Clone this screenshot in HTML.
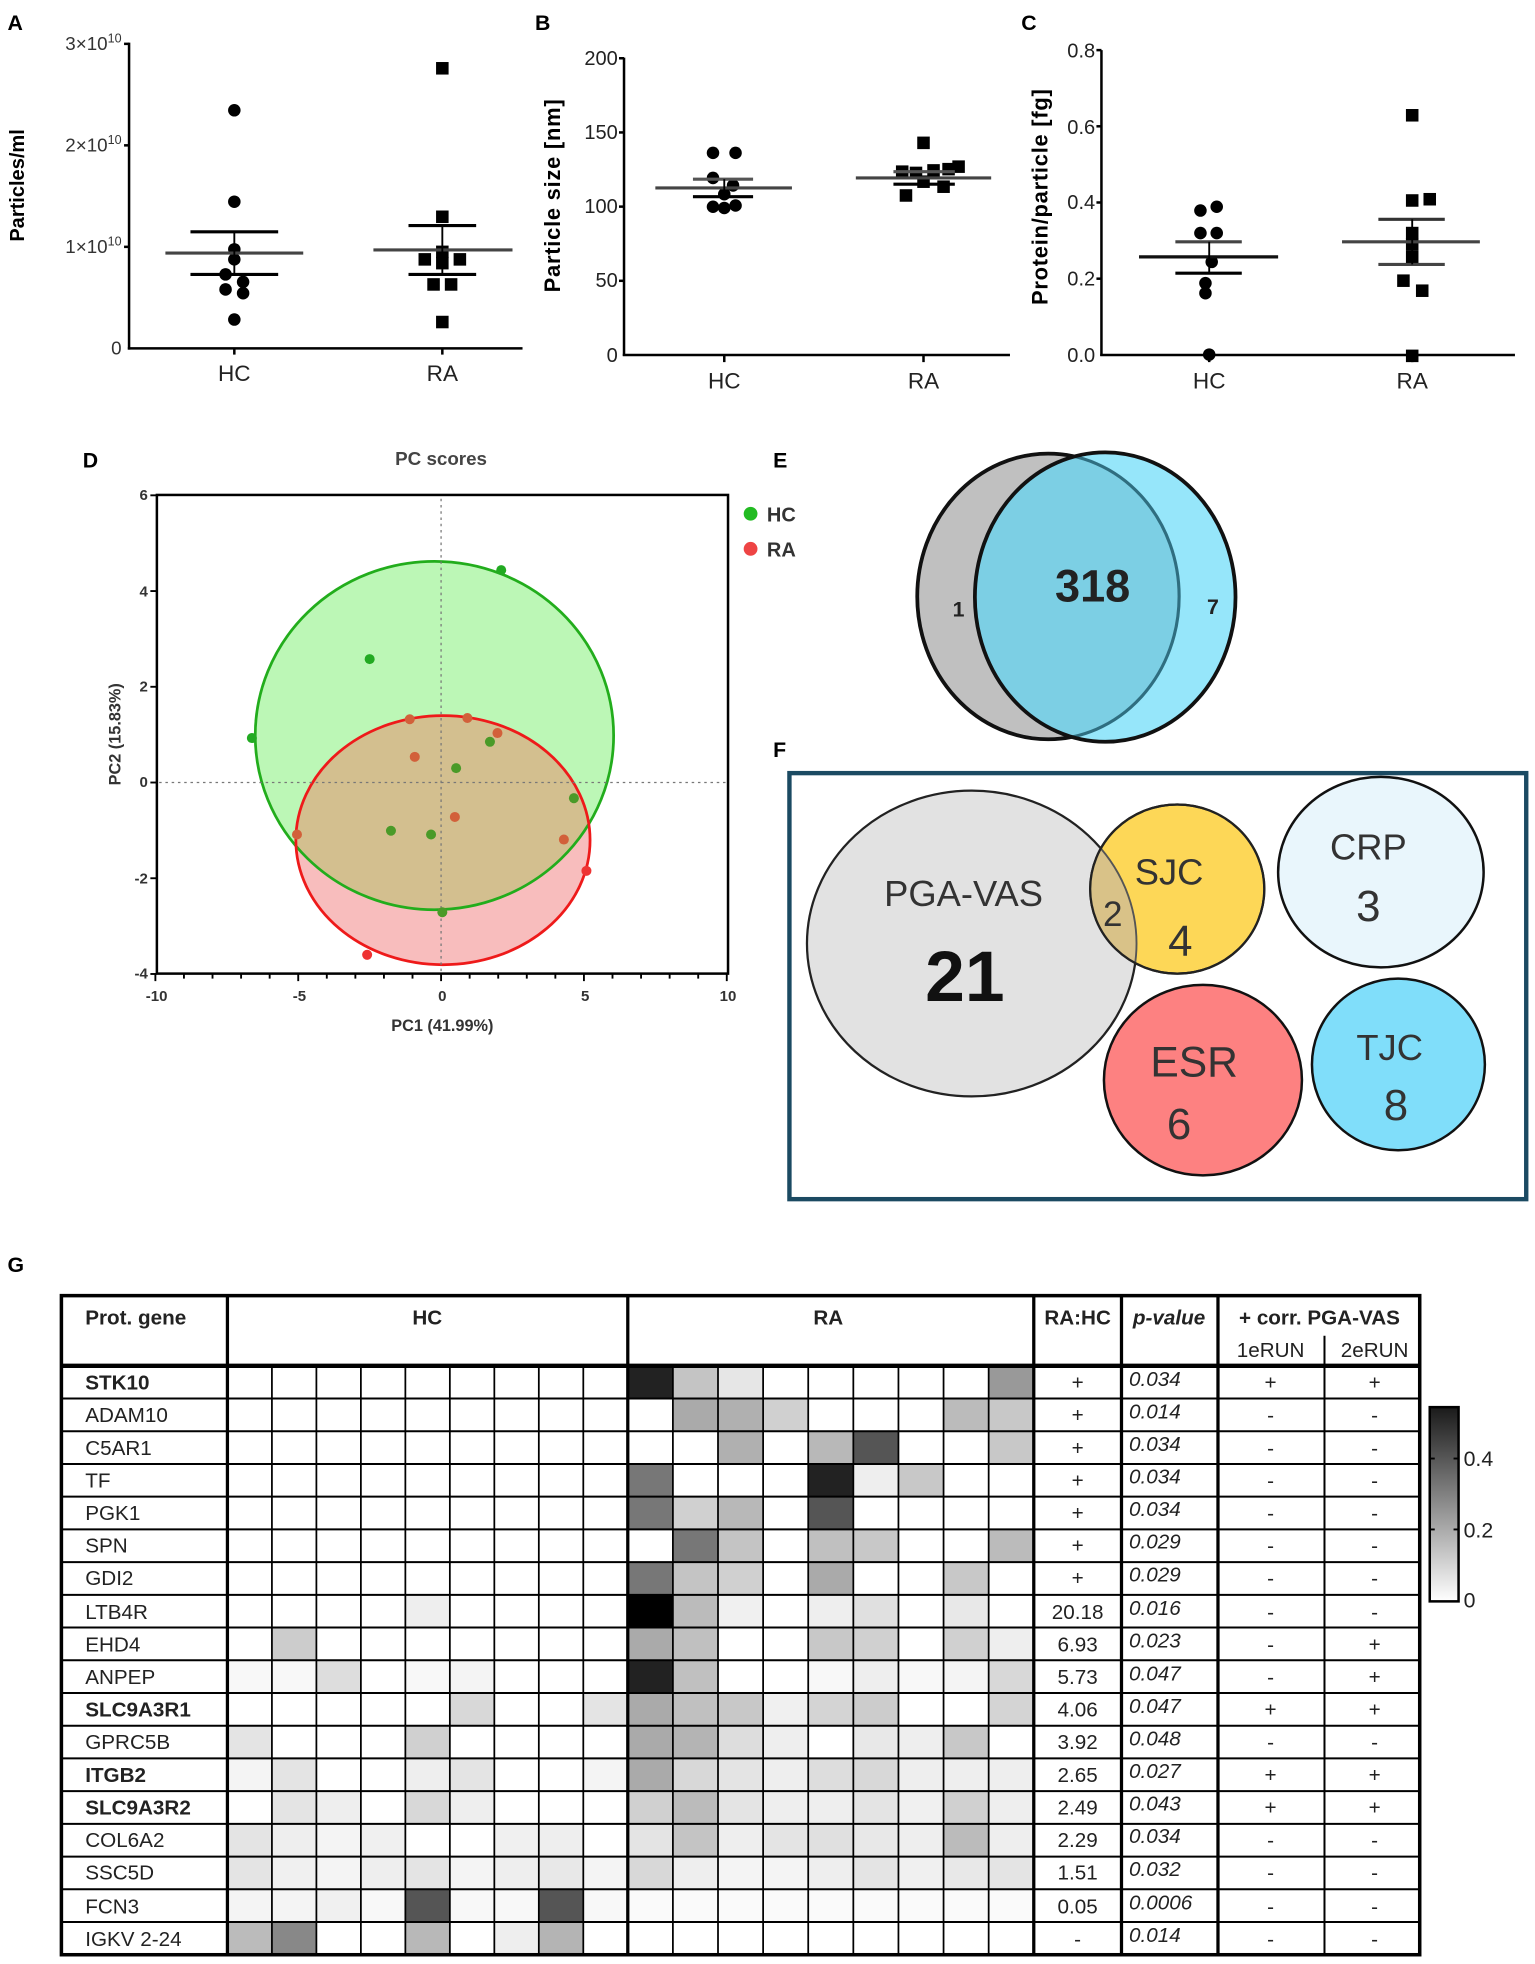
<!DOCTYPE html>
<html><head><meta charset="utf-8">
<style>
html,body{margin:0;padding:0;background:#fff;}
svg{display:block;}
.t{font-family:"Liberation Sans",Arial,sans-serif;}
.n{font-family:"Liberation Sans Narrow","Liberation Sans",Arial,sans-serif;}
</style></head>
<body>
<svg id="s" width="1535" height="1964" viewBox="0 0 1225 1567.4" preserveAspectRatio="none" xmlns="http://www.w3.org/2000/svg">
<rect x="0" y="0" width="1225" height="1567.4" fill="#fff"/>
<!-- Panel labels -->
<g class="t" font-weight="bold" font-size="17" fill="#000">
<text x="6" y="24">A</text><text x="427" y="24">B</text><text x="815" y="24">C</text>
<text x="66" y="373">D</text><text x="617" y="373">E</text><text x="617" y="604">F</text>
<text x="6" y="1015">G</text>
</g>

<!-- Panel A -->
<g stroke="#000" stroke-width="2" fill="none">
<line x1="103" y1="34" x2="103" y2="279"/><line x1="102" y1="278" x2="417" y2="278"/>
<line x1="99" y1="35" x2="103" y2="35"/><line x1="99" y1="116" x2="103" y2="116"/><line x1="99" y1="197" x2="103" y2="197"/>
<line x1="187" y1="278" x2="187" y2="283"/><line x1="353" y1="278" x2="353" y2="283"/>
</g>
<g class="n" font-size="15" fill="#333" text-anchor="end">
<text x="97" y="40">3×10<tspan font-size="10" dy="-6">10</tspan></text>
<text x="97" y="121">2×10<tspan font-size="10" dy="-6">10</tspan></text>
<text x="97" y="202">1×10<tspan font-size="10" dy="-6">10</tspan></text>
<text x="97" y="283">0</text>
</g>
<text class="t" font-weight="bold" font-size="16" transform="translate(19,148) rotate(-90)" text-anchor="middle">Particles/ml</text>
<g class="n" font-size="18" text-anchor="middle" fill="#222"><text x="187" y="304">HC</text><text x="353" y="304">RA</text></g>
<g fill="#000">
<circle cx="187" cy="88" r="5"/><circle cx="187" cy="161" r="5"/><circle cx="187" cy="199" r="5"/><circle cx="187" cy="207" r="5"/><circle cx="180" cy="219" r="5"/><circle cx="194" cy="225" r="5"/><circle cx="180" cy="231" r="5"/><circle cx="194" cy="234" r="5"/><circle cx="187" cy="255" r="5"/>
<rect x="348" y="49.5" width="10" height="10"/><rect x="348" y="168" width="10" height="10"/><rect x="348" y="196" width="10" height="10"/><rect x="334" y="202" width="10" height="10"/><rect x="362" y="202" width="10" height="10"/><rect x="348" y="205" width="10" height="10"/><rect x="341" y="222" width="10" height="10"/><rect x="355" y="222" width="10" height="10"/><rect x="348" y="252" width="10" height="10"/>
</g>
<g stroke-width="2.5">
<line x1="132" y1="202" x2="242" y2="202" stroke="#444"/><line x1="152" y1="185" x2="222" y2="185" stroke="#000"/><line x1="152" y1="219" x2="222" y2="219" stroke="#000"/><line x1="187" y1="185" x2="187" y2="219" stroke="#000" stroke-width="1.5"/>
<line x1="298" y1="199.5" x2="409" y2="199.5" stroke="#444"/><line x1="326" y1="180" x2="380" y2="180" stroke="#000"/><line x1="326" y1="219" x2="380" y2="219" stroke="#000"/><line x1="353" y1="180" x2="353" y2="219" stroke="#000" stroke-width="1.5"/>
</g>

<!-- Panel B -->
<g stroke="#000" stroke-width="2" fill="none">
<line x1="498" y1="46" x2="498" y2="284"/><line x1="497" y1="283.3" x2="806" y2="283.3"/>
<line x1="494" y1="46.5" x2="498" y2="46.5"/><line x1="494" y1="105.7" x2="498" y2="105.7"/><line x1="494" y1="164.9" x2="498" y2="164.9"/><line x1="494" y1="224.1" x2="498" y2="224.1"/>
<line x1="578" y1="283" x2="578" y2="289"/><line x1="737" y1="283" x2="737" y2="289"/>
</g>
<g class="n" font-size="16" fill="#222" text-anchor="end">
<text x="493" y="52">200</text><text x="493" y="111">150</text><text x="493" y="170">100</text><text x="493" y="229">50</text><text x="493" y="289">0</text>
</g>
<text class="t" font-weight="bold" font-size="17.5" letter-spacing="0.6" transform="translate(447,156) rotate(-90)" text-anchor="middle">Particle size [nm]</text>
<g class="n" font-size="18" text-anchor="middle" fill="#222"><text x="578" y="310">HC</text><text x="737" y="310">RA</text></g>
<g fill="#000">
<circle cx="569" cy="122" r="5"/><circle cx="587" cy="122" r="5"/><circle cx="569" cy="142" r="5"/><circle cx="585" cy="148" r="5"/><circle cx="578" cy="155" r="5"/><circle cx="569" cy="165" r="5"/><circle cx="578" cy="166" r="5"/><circle cx="587" cy="164" r="5"/>
<rect x="732" y="109" width="10" height="10"/><rect x="715" y="132" width="10" height="10"/><rect x="726" y="133" width="10" height="10"/><rect x="740" y="131" width="10" height="10"/><rect x="752" y="130" width="10" height="10"/><rect x="760" y="128" width="10" height="10"/><rect x="732" y="140" width="10" height="10"/><rect x="748" y="144" width="10" height="10"/><rect x="718" y="151" width="10" height="10"/>
</g>
<g stroke-width="2.5">
<line x1="523" y1="150" x2="632" y2="150" stroke="#444"/><line x1="553" y1="143" x2="601" y2="143" stroke="#555"/><line x1="553" y1="157" x2="601" y2="157" stroke="#000"/><line x1="578" y1="143" x2="578" y2="157" stroke="#000" stroke-width="1.5"/>
<line x1="683" y1="142" x2="791" y2="142" stroke="#444"/><line x1="713" y1="137" x2="762" y2="137" stroke="#555"/><line x1="713" y1="147" x2="762" y2="147" stroke="#000"/>
</g>

<!-- Panel C -->
<g stroke="#000" stroke-width="2" fill="none">
<line x1="879" y1="40" x2="879" y2="284"/><line x1="878" y1="283.3" x2="1209" y2="283.3"/>
<line x1="875" y1="40" x2="879" y2="40"/><line x1="875" y1="100.8" x2="879" y2="100.8"/><line x1="875" y1="161.6" x2="879" y2="161.6"/><line x1="875" y1="222.4" x2="879" y2="222.4"/>
<line x1="965" y1="283" x2="965" y2="289"/><line x1="1127" y1="283" x2="1127" y2="289"/>
</g>
<g class="n" font-size="16" fill="#222" text-anchor="end">
<text x="874" y="46">0.8</text><text x="874" y="107">0.6</text><text x="874" y="167">0.4</text><text x="874" y="228">0.2</text><text x="874" y="289">0.0</text>
</g>
<text class="t" font-weight="bold" font-size="17.5" letter-spacing="0.6" transform="translate(836,157) rotate(-90)" text-anchor="middle">Protein/particle [fg]</text>
<g class="n" font-size="18" text-anchor="middle" fill="#222"><text x="965" y="310">HC</text><text x="1127" y="310">RA</text></g>
<g fill="#000">
<circle cx="958" cy="168" r="5"/><circle cx="971" cy="165" r="5"/><circle cx="958" cy="186" r="5"/><circle cx="971" cy="186" r="5"/><circle cx="967" cy="209" r="5"/><circle cx="962" cy="226" r="5"/><circle cx="962" cy="234" r="5"/><circle cx="965" cy="283" r="5"/>
<rect x="1122" y="155" width="10" height="10"/><rect x="1136" y="154" width="10" height="10"/><rect x="1122" y="87" width="10" height="10"/><rect x="1122" y="181" width="10" height="10"/><rect x="1122" y="190" width="10" height="10"/><rect x="1122" y="200" width="10" height="10"/><rect x="1115" y="219" width="10" height="10"/><rect x="1130" y="227" width="10" height="10"/><rect x="1122" y="279" width="10" height="10"/>
</g>
<g stroke-width="2.5">
<line x1="909" y1="205" x2="1020" y2="205" stroke="#111"/><line x1="938" y1="193" x2="991" y2="193" stroke="#444"/><line x1="938" y1="218" x2="991" y2="218" stroke="#000"/><line x1="965" y1="193" x2="965" y2="218" stroke="#000" stroke-width="1.5"/>
<line x1="1071" y1="193" x2="1181" y2="193" stroke="#444"/><line x1="1100" y1="175" x2="1153" y2="175" stroke="#333"/><line x1="1100" y1="211" x2="1153" y2="211" stroke="#444"/><line x1="1127" y1="175" x2="1127" y2="211" stroke="#000" stroke-width="1.5"/>
</g>

<!-- Panel D -->
<text class="t" font-weight="bold" font-size="15" fill="#444" x="352" y="371" text-anchor="middle">PC scores</text>
<defs>
<clipPath id="gclip"><ellipse cx="346.7" cy="587" rx="143" ry="139"/></clipPath>
</defs>
<ellipse cx="346.7" cy="587" rx="143" ry="139" fill="#bcf7b6"/>
<ellipse cx="353.5" cy="670.5" rx="117.4" ry="99.4" fill="#f8bdbd"/>
<ellipse cx="353.5" cy="670.5" rx="117.4" ry="99.4" fill="#d3bf8f" clip-path="url(#gclip)"/>
<ellipse cx="346.7" cy="587" rx="143" ry="139" fill="none" stroke="#22ad1c" stroke-width="2.2"/>
<ellipse cx="353.5" cy="670.5" rx="117.4" ry="99.4" fill="none" stroke="#ee1a1a" stroke-width="2.2"/>
<g stroke="#777" stroke-width="1" stroke-dasharray="2,3">
<line x1="352" y1="398" x2="352" y2="776"/><line x1="127" y1="624.5" x2="580" y2="624.5"/>
</g>
<g>
<circle cx="400" cy="455" r="4" fill="#22aa22"/><circle cx="295" cy="526" r="4" fill="#22aa22"/><circle cx="201" cy="589" r="4" fill="#22aa22"/><circle cx="391" cy="592" r="4" fill="#4a9a28"/><circle cx="364" cy="613" r="4" fill="#4a9a28"/><circle cx="458" cy="637" r="4" fill="#4a9a28"/><circle cx="312" cy="663" r="4" fill="#4a9a28"/><circle cx="344" cy="666" r="4" fill="#4a9a28"/><circle cx="353" cy="728" r="4" fill="#4a9a28"/>
<circle cx="327" cy="574" r="4" fill="#d2603a"/><circle cx="373" cy="573" r="4" fill="#d2603a"/><circle cx="397" cy="585" r="4" fill="#d2603a"/><circle cx="331" cy="604" r="4" fill="#d2603a"/><circle cx="363" cy="652" r="4" fill="#d2603a"/><circle cx="237" cy="666" r="4" fill="#d2603a"/><circle cx="450" cy="670" r="4" fill="#d2603a"/><circle cx="468" cy="695" r="4" fill="#ee3333"/><circle cx="293" cy="762" r="4" fill="#ee3333"/>
</g>
<rect x="125.2" y="395" width="455.8" height="382" fill="none" stroke="#000" stroke-width="2"/>
<g stroke="#000" stroke-width="1.5" id="dticks"></g>
<g class="t" font-size="12" font-weight="bold" fill="#333" text-anchor="end">
<text x="118" y="399">6</text><text x="118" y="476">4</text><text x="118" y="552">2</text><text x="118" y="628">0</text><text x="118" y="705">-2</text><text x="118" y="781">-4</text>
</g>
<g class="t" font-size="12" font-weight="bold" fill="#333" text-anchor="middle">
<text x="125" y="799">-10</text><text x="239" y="799">-5</text><text x="353" y="799">0</text><text x="467" y="799">5</text><text x="581" y="799">10</text>
</g>
<text class="t" font-size="13" font-weight="bold" fill="#333" x="353" y="823" text-anchor="middle">PC1 (41.99%)</text>
<text class="t" font-size="13" font-weight="bold" fill="#333" transform="translate(96,586) rotate(-90)" text-anchor="middle">PC2 (15.83%)</text>
<circle cx="599" cy="410" r="5.5" fill="#22bb22"/><circle cx="599" cy="438" r="5.5" fill="#ee4444"/>
<g class="t" font-size="16" font-weight="bold" fill="#333"><text x="612" y="416">HC</text><text x="612" y="444">RA</text></g>

<!-- Panel E -->
<defs><clipPath id="gray"><ellipse cx="836.5" cy="476" rx="104.5" ry="114"/></clipPath>
<clipPath id="outsideBlue"><path d="M600 340 H1000 V600 H600 Z M 986 476.5 A104 115.5 0 1 0 986 476.6 Z" clip-rule="evenodd"/></clipPath></defs>
<ellipse cx="836.5" cy="476" rx="104.5" ry="114" fill="#c0c0c0"/>
<ellipse cx="882" cy="476.5" rx="104" ry="115.5" fill="#96e6fa"/>
<ellipse cx="882" cy="476.5" rx="104" ry="115.5" fill="#7ccfe4" clip-path="url(#gray)"/>
<ellipse cx="836.5" cy="476" rx="104.5" ry="114" fill="none" stroke="#2f6e80" stroke-width="2.5"/>
<ellipse cx="836.5" cy="476" rx="104.5" ry="114" fill="none" stroke="#111" stroke-width="3" clip-path="url(#outsideBlue)"/>
<ellipse cx="882" cy="476.5" rx="104" ry="115.5" fill="none" stroke="#111" stroke-width="3"/>
<g class="t" font-weight="bold" fill="#222" text-anchor="middle">
<text x="872" y="480" font-size="36">318</text>
<text x="765" y="492" font-size="17">1</text>
<text x="968" y="490" font-size="17">7</text>
</g>

<!-- Panel F -->
<rect x="630" y="617" width="588" height="340" fill="none" stroke="#1b4a62" stroke-width="3.5"/>
<defs><clipPath id="pga"><ellipse cx="775.5" cy="753" rx="131.5" ry="122"/></clipPath>
<clipPath id="sjcc"><ellipse cx="939.5" cy="709.5" rx="69.5" ry="67.5"/></clipPath></defs>
<ellipse cx="775.5" cy="753" rx="131.5" ry="122" fill="#e2e2e2" stroke="#222" stroke-width="1.8"/>
<ellipse cx="939.5" cy="709.5" rx="69.5" ry="67.5" fill="#fdd757" stroke="#222" stroke-width="1.8"/>
<ellipse cx="939.5" cy="709.5" rx="69.5" ry="67.5" fill="#d9c288" clip-path="url(#pga)"/>
<ellipse cx="775.5" cy="753" rx="131.5" ry="122" fill="none" stroke="#555" stroke-width="1.5" clip-path="url(#sjcc)"/>
<ellipse cx="939.5" cy="709.5" rx="69.5" ry="67.5" fill="none" stroke="#222" stroke-width="1.8"/>
<ellipse cx="1102" cy="696" rx="82" ry="76" fill="#e9f6fc" stroke="#111" stroke-width="2"/>
<ellipse cx="960" cy="862" rx="79" ry="76" fill="#fd8181" stroke="#111" stroke-width="2"/>
<ellipse cx="1116" cy="849.5" rx="69" ry="68.5" fill="#80defa" stroke="#111" stroke-width="2"/>
<g class="t" text-anchor="middle" fill="#333">
<text x="769" y="723" font-size="29">PGA-VAS</text>
<text x="770" y="799" font-size="57" font-weight="bold" fill="#111">21</text>
<text x="933" y="706" font-size="29">SJC</text>
<text x="942" y="763" font-size="35">4</text>
<text x="888" y="739" font-size="28">2</text>
<text x="1092" y="686" font-size="29">CRP</text>
<text x="1092" y="735" font-size="35">3</text>
<text x="953" y="859" font-size="34">ESR</text>
<text x="941" y="909" font-size="35">6</text>
<text x="1109" y="846" font-size="29">TJC</text>
<text x="1114" y="894" font-size="35">8</text>
</g>

<!-- Panel G table -->
<g id="cells"></g>
<g id="grid" stroke="#000" fill="none"></g>
<g class="n" font-size="16.5" fill="#222">
<text x="68" y="1057" font-weight="bold">Prot. gene</text>
<text x="341" y="1057" text-anchor="middle" font-weight="bold">HC</text>
<text x="661" y="1057" text-anchor="middle" font-weight="bold">RA</text>
<text x="860" y="1057" text-anchor="middle" font-weight="bold">RA:HC</text>
<text x="933" y="1057" text-anchor="middle" font-weight="bold" font-style="italic">p-value</text>
<text x="1053" y="1057" text-anchor="middle" font-weight="bold">+  corr. PGA-VAS</text>
<text x="1014" y="1083" text-anchor="middle">1eRUN</text>
<text x="1097" y="1083" text-anchor="middle">2eRUN</text>
</g>
<g class="n" font-size="16.5" fill="#222">
<text x="68" y="1109" font-weight="bold">STK10</text>
<text x="68" y="1135">ADAM10</text>
<text x="68" y="1161">C5AR1</text>
<text x="68" y="1187">TF</text>
<text x="68" y="1213">PGK1</text>
<text x="68" y="1239">SPN</text>
<text x="68" y="1265">GDI2</text>
<text x="68" y="1292">LTB4R</text>
<text x="68" y="1318">EHD4</text>
<text x="68" y="1344">ANPEP</text>
<text x="68" y="1370" font-weight="bold">SLC9A3R1</text>
<text x="68" y="1396">GPRC5B</text>
<text x="68" y="1422" font-weight="bold">ITGB2</text>
<text x="68" y="1448" font-weight="bold">SLC9A3R2</text>
<text x="68" y="1474">COL6A2</text>
<text x="68" y="1500">SSC5D</text>
<text x="68" y="1527">FCN3</text>
<text x="68" y="1553">IGKV 2-24</text>
</g>
<g class="n" font-size="16.5" fill="#222" text-anchor="middle">
<text x="860" y="1109">+</text><text x="860" y="1135">+</text><text x="860" y="1161">+</text><text x="860" y="1187">+</text><text x="860" y="1213">+</text><text x="860" y="1239">+</text><text x="860" y="1265">+</text>
<text x="860" y="1292">20.18</text><text x="860" y="1318">6.93</text><text x="860" y="1344">5.73</text><text x="860" y="1370">4.06</text><text x="860" y="1396">3.92</text><text x="860" y="1422">2.65</text><text x="860" y="1448">2.49</text><text x="860" y="1474">2.29</text><text x="860" y="1500">1.51</text><text x="860" y="1527">0.05</text><text x="860" y="1553">-</text>
</g>
<g class="n" font-size="16.5" fill="#222" font-style="italic">
<text x="901" y="1106">0.034</text><text x="901" y="1132">0.014</text><text x="901" y="1158">0.034</text><text x="901" y="1184">0.034</text><text x="901" y="1210">0.034</text><text x="901" y="1236">0.029</text><text x="901" y="1262">0.029</text><text x="901" y="1289">0.016</text><text x="901" y="1315">0.023</text><text x="901" y="1341">0.047</text><text x="901" y="1367">0.047</text><text x="901" y="1393">0.048</text><text x="901" y="1419">0.027</text><text x="901" y="1445">0.043</text><text x="901" y="1471">0.034</text><text x="901" y="1497">0.032</text><text x="901" y="1524">0.0006</text><text x="901" y="1550">0.014</text>
</g>
<g class="n" font-size="16.5" fill="#222" text-anchor="middle">
<text x="1014" y="1109">+</text><text x="1014" y="1135">-</text><text x="1014" y="1161">-</text><text x="1014" y="1187">-</text><text x="1014" y="1213">-</text><text x="1014" y="1239">-</text><text x="1014" y="1265">-</text><text x="1014" y="1292">-</text><text x="1014" y="1318">-</text><text x="1014" y="1344">-</text><text x="1014" y="1370">+</text><text x="1014" y="1396">-</text><text x="1014" y="1422">+</text><text x="1014" y="1448">+</text><text x="1014" y="1474">-</text><text x="1014" y="1500">-</text><text x="1014" y="1527">-</text><text x="1014" y="1553">-</text>
<text x="1097" y="1109">+</text><text x="1097" y="1135">-</text><text x="1097" y="1161">-</text><text x="1097" y="1187">-</text><text x="1097" y="1213">-</text><text x="1097" y="1239">-</text><text x="1097" y="1265">-</text><text x="1097" y="1292">-</text><text x="1097" y="1318">+</text><text x="1097" y="1344">+</text><text x="1097" y="1370">+</text><text x="1097" y="1396">-</text><text x="1097" y="1422">+</text><text x="1097" y="1448">+</text><text x="1097" y="1474">-</text><text x="1097" y="1500">-</text><text x="1097" y="1527">-</text><text x="1097" y="1553">-</text>
</g>
<!-- colorbar -->
<defs><linearGradient id="cb" x1="0" y1="0" x2="0" y2="1"><stop offset="0" stop-color="#1a1a1a"/><stop offset="1" stop-color="#ffffff"/></linearGradient></defs>
<rect x="1141" y="1123" width="23" height="155" fill="url(#cb)" stroke="#000" stroke-width="2"/>
<g stroke="#000" stroke-width="1.5"><line x1="1141" y1="1164" x2="1145" y2="1164"/><line x1="1160" y1="1164" x2="1164" y2="1164"/><line x1="1141" y1="1220.6" x2="1145" y2="1220.6"/><line x1="1160" y1="1220.6" x2="1164" y2="1220.6"/></g>
<g class="t" font-size="17" fill="#222"><text x="1168" y="1170">0.4</text><text x="1168" y="1227">0.2</text><text x="1168" y="1283">0</text></g>
</svg>
<script>
(function(){
var NS="http://www.w3.org/2000/svg";
function el(p,t,a){var e=document.createElementNS(NS,t);for(var k in a)e.setAttribute(k,a[k]);p.appendChild(e);return e;}
var dt=document.getElementById('dticks');
for(var i=-10;i<=10;i++){var x=352+i*22.8;el(dt,'line',{x1:x,y1:777,x2:x,y2:(i%5==0?783:781)});}
for(var j=-4;j<=6;j+=2){var y=624.5-j*38.2;el(dt,'line',{x1:120,y1:y,x2:125,y2:y});}
var W='#fff';
var HC=[
[],[],[],[],[],[],[],
[W,W,W,W,'#eee'],
[W,'#ccc'],
['#f8f8f8','#f8f8f8','#ddd',W,'#f8f8f8','#f4f4f4'],
[W,W,W,W,W,'#d8d8d8',W,W,'#e4e4e4'],
['#e4e4e4',W,W,W,'#d0d0d0'],
['#f4f4f4','#e4e4e4',W,W,'#eee','#e4e4e4',W,W,'#f4f4f4'],
[W,'#e4e4e4','#eee',W,'#d8d8d8','#eee'],
['#e4e4e4','#eee','#f4f4f4','#f0f0f0',W,W,'#f0f0f0','#eee',W],
['#e4e4e4','#f0f0f0','#f4f4f4','#eee','#e4e4e4','#f4f4f4','#eee','#e8e8e8','#f4f4f4'],
['#f4f4f4','#f4f4f4','#f0f0f0','#f8f8f8','#555','#f8f8f8','#f8f8f8','#555','#f8f8f8'],
['#bbb','#888',W,W,'#b8b8b8',W,'#eee','#b4b4b4',W]];
var RA=[
['#222','#c4c4c4','#e6e6e6',W,W,W,W,W,'#999'],
[W,'#aaa','#b0b0b0','#d0d0d0',W,W,W,'#bbb','#c8c8c8'],
[W,W,'#b0b0b0',W,'#b8b8b8','#555',W,W,'#c8c8c8'],
['#777',W,W,W,'#222','#eee','#c8c8c8',W,W],
['#777','#d0d0d0','#b8b8b8',W,'#555'],
[W,'#777','#c4c4c4',W,'#c0c0c0','#c8c8c8',W,W,'#bbb'],
['#777','#c4c4c4','#d0d0d0',W,'#aaa',W,W,'#c8c8c8'],
['#000','#bbb','#f0f0f0',W,'#eee','#e0e0e0',W,'#e8e8e8'],
['#aaa','#c0c0c0',W,W,'#c8c8c8','#d0d0d0',W,'#d0d0d0','#eee'],
['#222','#c0c0c0',W,W,'#f8f8f8','#eee','#f8f8f8','#f4f4f4','#d8d8d8'],
['#aaa','#c0c0c0','#c8c8c8','#f0f0f0','#d4d4d4','#ccc',W,W,'#d4d4d4'],
['#aaa','#b4b4b4','#ddd','#eee',W,'#e8e8e8','#eee','#c8c8c8'],
['#aaa','#d8d8d8','#e4e4e4','#eee','#ddd','#d8d8d8','#eee','#eee','#eee'],
['#d0d0d0','#bbb','#e4e4e4','#eee','#eee','#e4e4e4','#f0f0f0','#d0d0d0','#eee'],
['#e4e4e4','#c4c4c4','#eee','#e4e4e4','#e0e0e0','#e8e8e8','#eee','#bbb','#eee'],
['#d8d8d8','#eee','#f4f4f4','#f4f4f4','#eee','#e4e4e4','#f0f0f0','#e8e8e8','#e4e4e4'],
['#fafafa','#fafafa','#fafafa','#fafafa','#fafafa','#fafafa','#fafafa','#fafafa','#fafafa'],
[]];
var top=1090,rh=(1560-1090)/18,hx=181.5,hw=(501-181.5)/9,rx=501,rw=(825-501)/9;
var c=document.getElementById('cells');
for(var r=0;r<18;r++){for(var k=0;k<9;k++){
 var a=HC[r][k]||W,b=RA[r][k]||W;
 if(a!=W)el(c,'rect',{x:hx+k*hw,y:top+r*rh,width:hw,height:rh,fill:a});
 if(b!=W)el(c,'rect',{x:rx+k*rw,y:top+r*rh,width:rw,height:rh,fill:b});
}}
var g=document.getElementById('grid');
for(var r=1;r<18;r++){var y=top+r*rh;el(g,'line',{x1:49,y1:y,x2:1133,y2:y,'stroke-width':1.6});}
for(var k=1;k<9;k++){el(g,'line',{x1:hx+k*hw,y1:top,x2:hx+k*hw,y2:1560,'stroke-width':1.4});el(g,'line',{x1:rx+k*rw,y1:top,x2:rx+k*rw,y2:1560,'stroke-width':1.4});}
[181.5,501,825,895,972].forEach(function(x){el(g,'line',{x1:x,y1:1034,x2:x,y2:1560,'stroke-width':2.6});});
el(g,'line',{x1:1057,y1:1066,x2:1057,y2:1560,'stroke-width':1.6});
el(g,'line',{x1:49,y1:1090,x2:1133,y2:1090,'stroke-width':3.5});
el(g,'rect',{x:49,y:1034,width:1084,height:526,'stroke-width':2.8});
})();
</script>
</body></html>
